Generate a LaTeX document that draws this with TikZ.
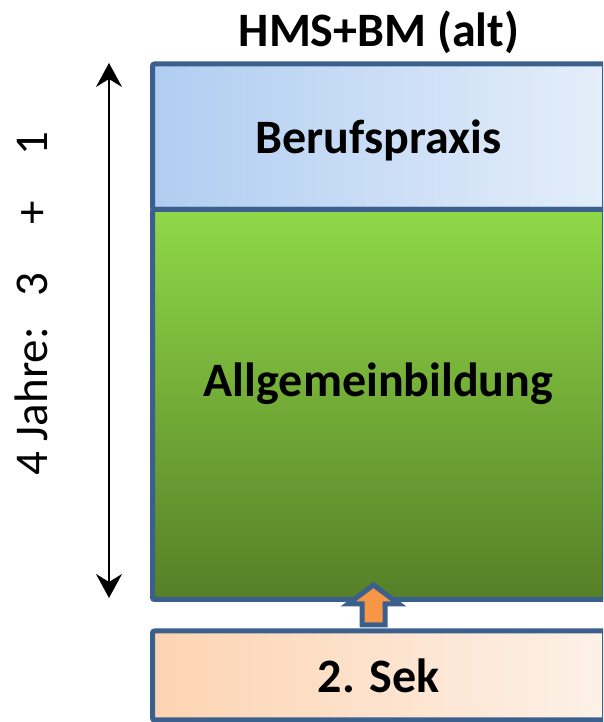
\documentclass[tikz,border=0pt]{standalone}
\usepackage{fontspec}
\setmainfont{Carlito}
\usepackage{tikz}
\usetikzlibrary{arrows.meta}

\definecolor{rand}{RGB}{60,96,141}
\definecolor{praxisL}{RGB}{176,205,241}
\definecolor{praxisR}{RGB}{228,238,250}
\definecolor{bildungT}{RGB}{143,216,71}
\definecolor{bildungB}{RGB}{86,127,39}
\definecolor{sekL}{RGB}{253,212,178}
\definecolor{sekR}{RGB}{253,241,232}
\definecolor{pfeil}{RGB}{247,150,70}

\begin{document}
\begin{tikzpicture}
      [x=1pt,y=1pt,
        box/.style={draw=rand, line width=5pt, rounded corners=2pt,
          minimum width=452pt, font=\fontsize{48}{58}\selectfont\bfseries},
        dauer/.style={{Stealth[length=24pt,width=26pt,inset=8pt]}-{Stealth[length=24pt,width=26pt,inset=8pt]}, line width=1.5pt},
        hoch/.style={draw=rand, line width=5pt, fill=pfeil, miter limit=4}]
  \clip (0,0) rectangle (603,722);
  \node[anchor=base, font=\fontsize{48}{58}\selectfont\bfseries] (titel) at (379,675) {HMS+BM (alt)};
  \node[box, left color=praxisL, right color=praxisR, minimum height=145.5pt, text depth=0pt] (praxis) at (378.5,585.25) {Berufspraxis};
  \node[box, top color=bildungT, bottom color=bildungB, minimum height=390pt, text depth=50pt] (bildung) at (378.5,317.5) {Allgemeinbildung};
  \node[box, left color=sekL, right color=sekR, minimum height=89pt] (sek) at (378.5,46.5) {2. Sek};
  % Pfeil von 2. Sek nach oben
  \draw[hoch] (373.5,137) -- (399,118) -- (385,118) -- (385,97)
    -- (362,97) -- (362,118) -- (348,118) -- cycle;
  % Dauer links
  \coordinate (oben) at (109,659);
  \coordinate (unten) at (109,124);
  \draw[dauer] (unten) -- (oben);
  \node[rotate=90, anchor=base west, font=\fontsize{47}{56}\selectfont] (jahre) at (47,243)
    {4 Jahre:\hspace{31pt}3\hspace{48pt}+\hspace{45pt}1};
\end{tikzpicture}
\end{document}
